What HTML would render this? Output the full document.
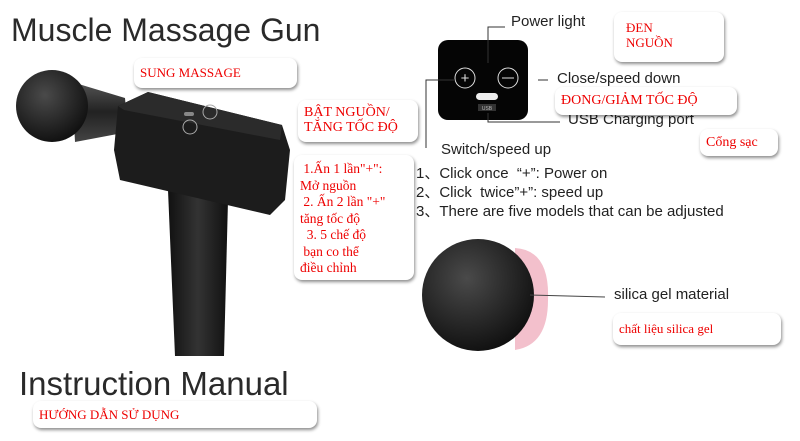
<!DOCTYPE html>
<html><head><meta charset="utf-8"><style>
body{margin:0;width:800px;height:441px;background:#fff;position:relative;overflow:hidden;font-family:"Liberation Sans","Noto Sans CJK SC",sans-serif}
.a{position:absolute;white-space:nowrap}
.box{position:absolute;background:#fff;border-radius:8px;box-shadow:1px 2px 3px rgba(0,0,0,.45);color:#e00;font-family:"Liberation Serif","Noto Serif CJK SC",serif;font-size:13px;line-height:15px;padding:2px 6px;box-sizing:border-box}
.t{color:#222;font-size:15px}
</style></head><body>
<div class="a" style="left:11px;top:12px;font-size:32px;color:#2a2a2a">Muscle Massage Gun</div>
<div class="a" style="left:19px;top:365px;font-size:33px;color:#2a2a2a">Instruction Manual</div>

<svg style="position:absolute;left:0;top:0" width="800" height="441">
<defs>
<radialGradient id="g1" cx="40%" cy="35%" r="70%"><stop offset="0" stop-color="#4a4a4a"/><stop offset="1" stop-color="#0e0e0e"/></radialGradient>
<linearGradient id="g2" x1="0" x2="1"><stop offset="0" stop-color="#111"/><stop offset=".5" stop-color="#333"/><stop offset="1" stop-color="#111"/></linearGradient>
<linearGradient id="g3" x1="0" y1="0" x2="0" y2="1"><stop offset="0" stop-color="#555"/><stop offset=".5" stop-color="#222"/><stop offset="1" stop-color="#444"/></linearGradient>
</defs>
<path d="M168 190 L228 200 L224 356 L175 356 Z" fill="url(#g2)"/>
<path d="M72 82 L125 98 L128 132 L75 142 Z" fill="url(#g3)"/>
<circle cx="52" cy="106" r="36" fill="url(#g1)"/>
<path d="M118 106 L148 92 L282 125 L290 150 L285 200 L270 215 L120 180 L114 150 Z" fill="#1c1c1c"/>
<path d="M118 106 L148 92 L282 125 L280 140 L124 110 Z" fill="#2b2b2b"/>
<circle cx="210" cy="112" r="7" fill="none" stroke="#aaa" stroke-width="1"/>
<circle cx="190" cy="127" r="7" fill="none" stroke="#aaa" stroke-width="1"/>
<rect x="184" y="112" width="10" height="4" rx="2" fill="#888"/>
<rect x="438" y="40" width="90" height="80" rx="10" fill="#050505"/>
<circle cx="465" cy="78" r="10" fill="none" stroke="#ddd" stroke-width="1"/>
<text x="465" y="83" font-size="15" fill="#ddd" text-anchor="middle">+</text>
<circle cx="508" cy="78" r="10" fill="none" stroke="#ddd" stroke-width="1"/>
<line x1="502" y1="78" x2="514" y2="78" stroke="#ddd"/>
<rect x="476" y="93" width="22" height="7" rx="3.5" fill="#eee"/>
<rect x="478" y="104" width="18" height="7" fill="#333"/>
<text x="487" y="110" font-size="5" fill="#bbb" text-anchor="middle">USB</text>
<g stroke="#333" stroke-width="1" fill="none">
<path d="M488 63 V27 H505"/>
<path d="M538 80 H548"/>
<path d="M488 113 V122 H560"/>
<path d="M455 80 H426 V148"/>
</g>
<path d="M515 248 Q550 250 548 300 Q548 345 515 350 Z" fill="#f3c0cc"/>
<circle cx="478" cy="295" r="56" fill="url(#g1)"/>
<line x1="530" y1="295" x2="605" y2="297" stroke="#444"/>
</svg>

<div class="a t" style="left:511px;top:13px">Power light</div>
<div class="a t" style="left:557px;top:70px">Close/speed down</div>
<div class="a t" style="left:568px;top:111px">USB Charging port</div>
<div class="a t" style="left:441px;top:141px">Switch/speed up</div>
<div class="a t" style="left:416px;top:164px;line-height:19px">1、Click once &nbsp;“+”: Power on<br>2、Click &nbsp;twice”+”: speed up<br>3、There are five models that can be adjusted</div>
<div class="a t" style="left:614px;top:286px">silica gel material</div>

<div class="box" style="left:134px;top:58px;width:163px;height:30px;padding-top:7px">SUNG MASSAGE</div>
<div class="box" style="left:298px;top:100px;width:120px;height:42px;padding-top:5px;font-size:14px">BẬT NGUỒN/<br>TĂNG TỐC ĐỘ</div>
<div class="box" style="left:294px;top:155px;width:120px;height:125px;padding-top:6px;font-size:13.5px;line-height:16.5px">&nbsp;1.Ấn 1 lần"+":<br>Mở nguồn<br>&nbsp;2. Ấn 2 lần "+"<br>tăng tốc độ<br>&nbsp;&nbsp;3. 5 chế độ<br>&nbsp;bạn co thể<br>điều chỉnh</div>
<div class="box" style="left:614px;top:12px;width:110px;height:50px;padding-top:8px;padding-left:12px">ĐEN<br>NGUỒN</div>
<div class="box" style="left:555px;top:87px;width:182px;height:28px;padding-top:6px;font-size:14px">ĐONG/GIẢM TỐC ĐỘ</div>
<div class="box" style="left:700px;top:129px;width:78px;height:27px;padding-top:6px;font-size:14px">Cổng sạc</div>
<div class="box" style="left:613px;top:313px;width:168px;height:32px;padding-top:8px">chất liệu silica gel</div>
<div class="box" style="left:33px;top:401px;width:284px;height:27px;padding-top:6px">HƯỚNG DẪN SỬ DỤNG</div>
</body></html>
